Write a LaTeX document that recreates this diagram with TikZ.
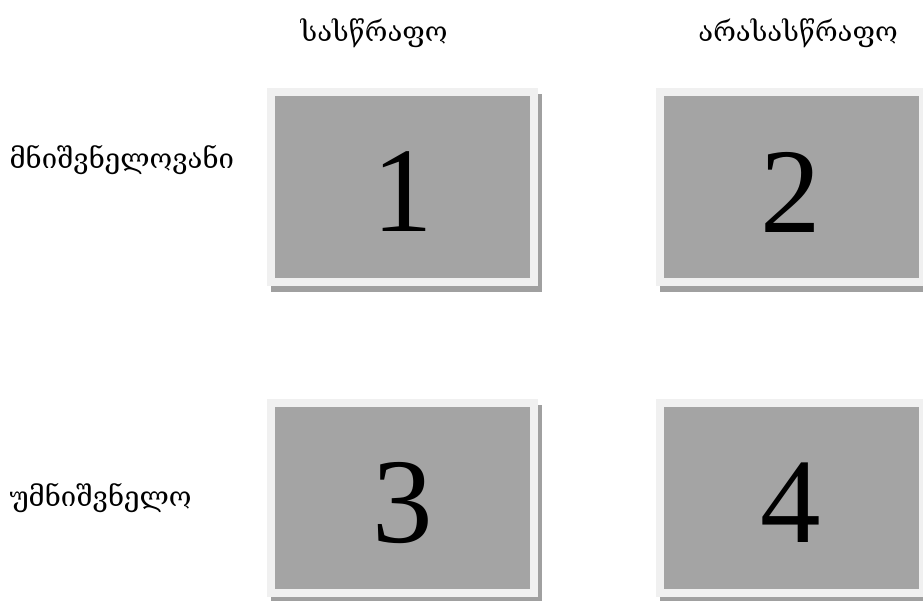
\documentclass[tikz,border=0pt]{standalone}
\usepackage{fontspec}
\setmainfont{Liberation Serif}
\newfontfamily\geofont{DejaVu Serif}
\usepackage{xcolor}
\usetikzlibrary{positioning,shadows}

\definecolor{framegray}{HTML}{F0F0F0}
\definecolor{panegray}{HTML}{A4A4A4}
\definecolor{shadegray}{HTML}{A0A0A0}

\begin{document}
\begin{tikzpicture}[
    x=1pt, y=-1pt,
    cell/.style={fill=framegray, inner sep=0pt, minimum width=271pt, minimum height=198pt,
                 drop shadow={shadow xshift=4pt, shadow yshift=-6pt, fill=shadegray, opacity=1}},
    pane/.style={fill=panegray, inner sep=0pt, minimum width=255pt, minimum height=182pt},
    digit/.style={inner sep=0pt, font=\fontsize{121}{121}\selectfont},
    head/.style={font=\geofont\fontsize{27.5}{30}\selectfont},
    side/.style={font=\geofont\fontsize{27.5}{30}\selectfont, anchor=west}
]
\useasboundingbox (0,0) rectangle (923,600);

% column headings
\node[head] (urgent) at (374,33) {სასწრაფო};
\node[head] (noturgent) at (798,33) {არასასწრაფო};

% row headings
\node[side] (important) at (6,160) {მნიშვნელოვანი};
\node[side] (notimportant) at (6,498) {უმნიშვნელო};

% four quadrants
\node[cell] (q1) at (402.5,187) {};
\node[pane] (p1) at (q1) {};
\node[digit] at ([yshift=-5pt]p1) {1};
\node[cell] (q2) at (791,187) {};
\node[pane] (p2) at (q2) {};
\node[digit] at ([yshift=-5pt]p2) {2};
\node[cell] (q3) at (402.5,498) {};
\node[pane] (p3) at (q3) {};
\node[digit] at ([yshift=-5pt]p3) {3};
\node[cell] (q4) at (791,498) {};
\node[pane] (p4) at (q4) {};
\node[digit] at ([yshift=-5pt]p4) {4};

\end{tikzpicture}
\end{document}
